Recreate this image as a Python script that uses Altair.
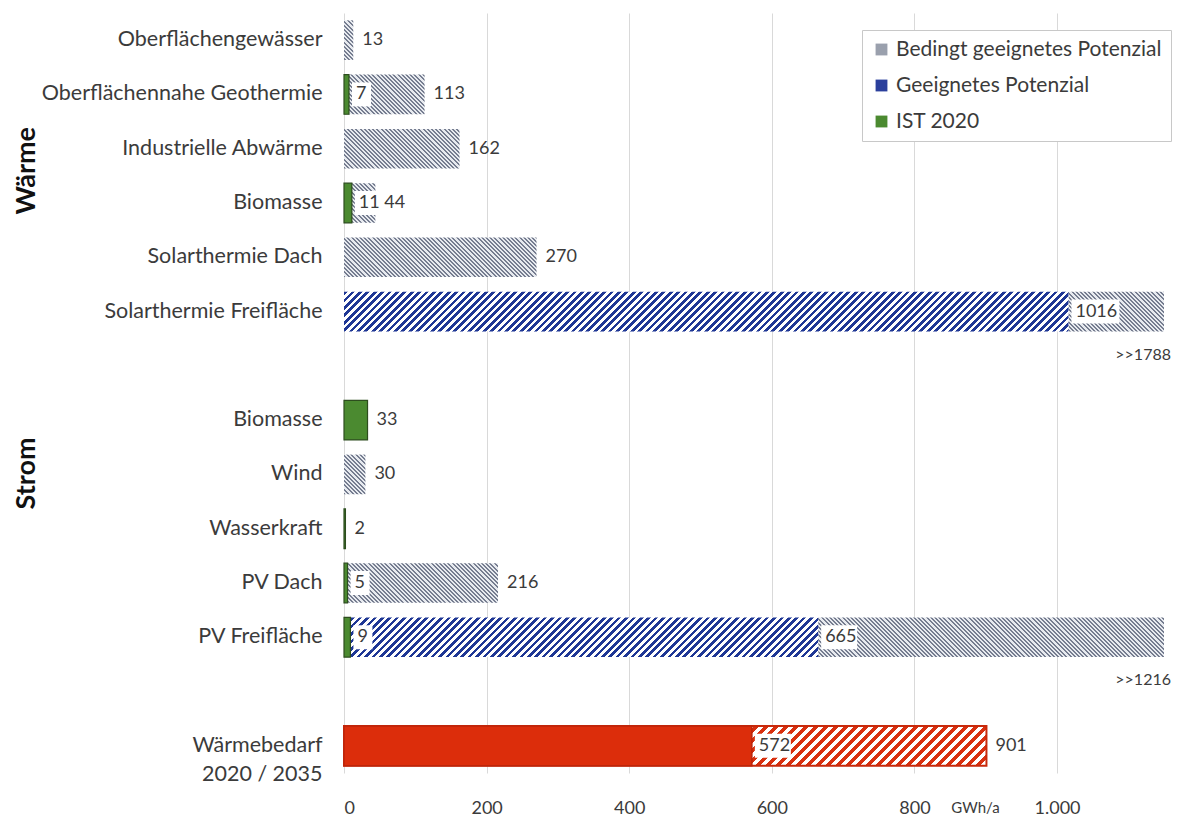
import altair as alt
import pandas as pd

# ---------------- data ----------------
row_ids = ["oberflaeche", "geotherm", "abwaerme", "biomasse_w", "st_dach", "st_frei", "gap1",
           "biomasse_s", "wind", "wasser", "pv_dach", "pv_frei", "gap2", "bedarf"]
row_names = ["Oberflächengewässer", "Oberflächennahe Geothermie", "Industrielle Abwärme", "Biomasse",
             "Solarthermie Dach", "Solarthermie Freifläche", "", "Biomasse", "Wind", "Wasserkraft",
             "PV Dach", "PV Freifläche", "", "Wärmebedarf|2020 / 2035"]
bedingt = [13, 113, 162, 44, 270, 1788, None, None, 30, None, 216, 1216, None, None]
geeignet = [None, None, None, None, None, 1016, None, None, None, None, None, 665, None, None]
ist = [None, 7, None, 11, None, None, None, 33, None, 2, 5, 9, None, None]
bedarf_2020 = 572
bedarf_2035 = 901
x_ticks = [0, 200, 400, 600, 800, 1000]
x_max = 1150
legend_names = ["Bedingt geeignetes Potenzial", "Geeignetes Potenzial", "IST 2020"]
legend_colors = ["#9aa0ad", "#2b3f9c", "#4b8a30"]
groups = ["Wärme", "Strom"]

# ---------------- layout / style ----------------
PLOT_W, PLOT_H = 820, 760
PAD_INNER = 0.27
step = PLOT_H / len(row_ids)
bar_h = step * (1 - PAD_INNER)
ppu = PLOT_W / x_max
FONT = "Lato"
TXT = "#3b3b3b"


def hatch(w_px, h_px, color, period, duty, direction, bg="#ffffff"):
    """Striped fill built from a linear gradient (45 degree stripes)."""
    r = h_px / max(w_px, 0.5)
    s = (1 + r) / (1 + r * r)
    dt = period / (max(w_px, 0.5) * (1 + r))
    stops = []
    k = 0
    while k * dt < 1:
        a = round(k * dt, 6)
        b = round(min(k * dt + duty * dt, 1), 6)
        c = round(min((k + 1) * dt, 1), 6)
        stops += [{"offset": a, "color": color}, {"offset": b, "color": color},
                  {"offset": b, "color": bg}, {"offset": c, "color": bg}]
        k += 1
    if direction == "/":
        x1, y1, x2, y2 = 0, 0, s, s * r
    else:
        x1, y1, x2, y2 = 0, 1, s, 1 - s * r
    return {"gradient": "linear", "x1": x1, "y1": y1, "x2": x2, "y2": y2, "stops": stops}


names_js = "[" + ",".join("'" + n + "'" for n in row_names) + "]"
ids_js = "[" + ",".join("'" + i + "'" for i in row_ids) + "]"
y_label_expr = f"split({names_js}[indexof({ids_js}, datum.value)], '|')"

x_scale = alt.Scale(domain=[0, x_max], nice=False, zero=True)
y_scale = alt.Scale(domain=row_ids, paddingInner=PAD_INNER, paddingOuter=PAD_INNER / 2)
x_axis = alt.Axis(values=x_ticks, grid=True, gridColor="#d9d9d9", gridWidth=1, domain=False, ticks=False,
                  labelExpr="replace(format(datum.value, ','), ',', '.')", labelFont=FONT,
                  labelFontSize=18, labelColor=TXT, labelPadding=26,
                  title="GWh/a", titleX=631, titleY=34, titleFont=FONT, titleFontSize=15,
                  titleFontWeight="normal", titleColor=TXT, titleAlign="center", titleBaseline="middle")
y_axis = alt.Axis(title=None, domain=False, ticks=False, grid=False, labelExpr=y_label_expr,
                  labelFont=FONT, labelFontSize=21.5, labelColor=TXT, labelPadding=22,
                  labelLineHeight=29, labelLimit=400)


def X(field):
    return alt.X(field, type="quantitative", scale=x_scale, axis=x_axis)


def Y():
    return alt.Y("id:N", scale=y_scale, axis=y_axis)


layers = []

# legend carrier (zero-length bars)
leg_df = pd.DataFrame({"id": ["oberflaeche"] * 3, "serie": legend_names, "z": [0, 0, 0]})
layers.append(
    alt.Chart(leg_df).mark_bar().encode(
        x=X("z"), y=Y(),
        color=alt.Color("serie:N", scale=alt.Scale(domain=legend_names, range=legend_colors),
                        legend=alt.Legend(title=None, orient="none", legendX=518, legendY=17,
                                          symbolType="square", symbolSize=140,
                                          labelFont=FONT, labelFontSize=21, labelColor=TXT,
                                          strokeColor="#c8c8c8", fillColor="#ffffff",
                                          padding=9, rowPadding=14, labelLimit=400)))
)

# bedingt geeignetes Potenzial (grey hatch); where a blue bar lies on top,
# only the part beyond it is drawn
for rid, v, g in zip(row_ids, bedingt, geeignet):
    if v is None:
        continue
    start = g if g is not None else 0
    d = pd.DataFrame({"id": [rid], "a": [start], "v": [v]})
    layers.append(alt.Chart(d).mark_bar(
        fill=hatch((v - start) * ppu, bar_h, "#767d90", 4.2, 0.47, "\\", bg="#e7eaef"),
        clip=True).encode(x=X("a"), x2="v:Q", y=Y()))

# geeignetes Potenzial (blue hatch)
for rid, v in zip(row_ids, geeignet):
    if v is None:
        continue
    d = pd.DataFrame({"id": [rid], "v": [v]})
    layers.append(alt.Chart(d).mark_bar(fill=hatch(v * ppu, bar_h, "#1f3795", 7.4, 0.5, "/"),
                                        clip=True).encode(x=X("v"), y=Y()))

# Wärmebedarf 2035 (red hatch) and 2020 (solid red)
d35 = pd.DataFrame({"id": ["bedarf"], "v": [bedarf_2035]})
layers.append(alt.Chart(d35).mark_bar(fill=hatch(bedarf_2035 * ppu, bar_h, "#d8300f", 10, 0.5, "/"),
                                      stroke="#c8290b", strokeWidth=2).encode(x=X("v"), y=Y()))
d20 = pd.DataFrame({"id": ["bedarf"], "v": [bedarf_2020]})
layers.append(alt.Chart(d20).mark_bar(fill="#dc2d0b", stroke="#bd250a", strokeWidth=1.5)
              .encode(x=X("v"), y=Y()))

# IST 2020 (green)
ist_df = pd.DataFrame([{"id": r, "v": v} for r, v in zip(row_ids, ist) if v is not None])
layers.append(alt.Chart(ist_df).mark_bar(fill="#4b8a30", stroke="#2d4d1e", strokeWidth=1.2)
              .encode(x=X("v"), y=Y()))

# boxed labels
boxed = []
for r, v_ist, v_ge in zip(row_ids, ist, geeignet):
    if v_ist is not None and r in ("geotherm", "biomasse_w", "pv_dach", "pv_frei"):
        boxed.append({"id": r, "v": v_ist, "lab": str(v_ist)})
    if v_ge is not None:
        boxed.append({"id": r, "v": v_ge, "lab": str(v_ge)})
boxed.append({"id": "bedarf", "v": bedarf_2020, "lab": str(bedarf_2020)})
box_df = pd.DataFrame(boxed)
box_df["nd"] = box_df["lab"].str.len()
box_w = {1: 19, 2: 26, 3: 36, 4: 48}
for nd, w in box_w.items():
    sub = box_df[box_df["nd"] == nd]
    if len(sub) == 0:
        continue
    layers.append(alt.Chart(sub).mark_bar(fill="#ffffff", size=24, xOffset=3, x2Offset=3 + w)
                  .encode(x=X("v"), x2="v:Q", y=Y()))
layers.append(alt.Chart(box_df).mark_text(align="left", baseline="middle", dx=7, font=FONT,
                                          fontSize=18, color=TXT)
              .encode(x=X("v"), y=Y(), text="lab:N"))

# end labels
ends = []
for r, v in zip(row_ids, bedingt):
    if v is not None and v <= x_max:
        ends.append({"id": r, "v": v, "lab": str(v)})
for r in ("biomasse_s", "wasser"):
    v = ist[row_ids.index(r)]
    ends.append({"id": r, "v": v, "lab": str(v)})
ends.append({"id": "bedarf", "v": bedarf_2035, "lab": str(bedarf_2035)})
end_df = pd.DataFrame(ends)
layers.append(alt.Chart(end_df).mark_text(align="left", baseline="middle", dx=9, font=FONT,
                                          fontSize=18, color=TXT)
              .encode(x=X("v"), y=Y(), text="lab:N"))

# clipped totals
clip_df = pd.DataFrame([{"id": r, "lab": ">>" + str(v)} for r, v in zip(row_ids, bedingt)
                        if v is not None and v > x_max])
layers.append(alt.Chart(clip_df).mark_text(align="right", baseline="middle", yOffset=43, font=FONT,
                                           fontSize=16, color=TXT)
              .encode(x=alt.value(PLOT_W + 7), y=Y(), text="lab:N"))

# group labels
grp_pos = {"Wärme": ("abwaerme", 22), "Strom": ("wind", -1)}
for g in groups:
    rid, off = grp_pos[g]
    gd = pd.DataFrame({"id": [rid], "lab": [g]})
    layers.append(alt.Chart(gd).mark_text(angle=270, baseline="middle", align="center", yOffset=off,
                                          font=FONT, fontSize=27, fontWeight="bold", color="#111111")
                  .encode(x=alt.value(27 - 344), y=Y(), text="lab:N"))

chart = alt.layer(*layers).properties(
    width=PLOT_W, height=PLOT_H,
    padding={"left": 336, "top": 5, "right": 11, "bottom": 46},
    autosize=alt.AutoSizeParams(type="none"),
    background="#ffffff",
).configure_view(stroke=None)

chart.save("out.html", embed_options={"renderer": "svg", "actions": False})
